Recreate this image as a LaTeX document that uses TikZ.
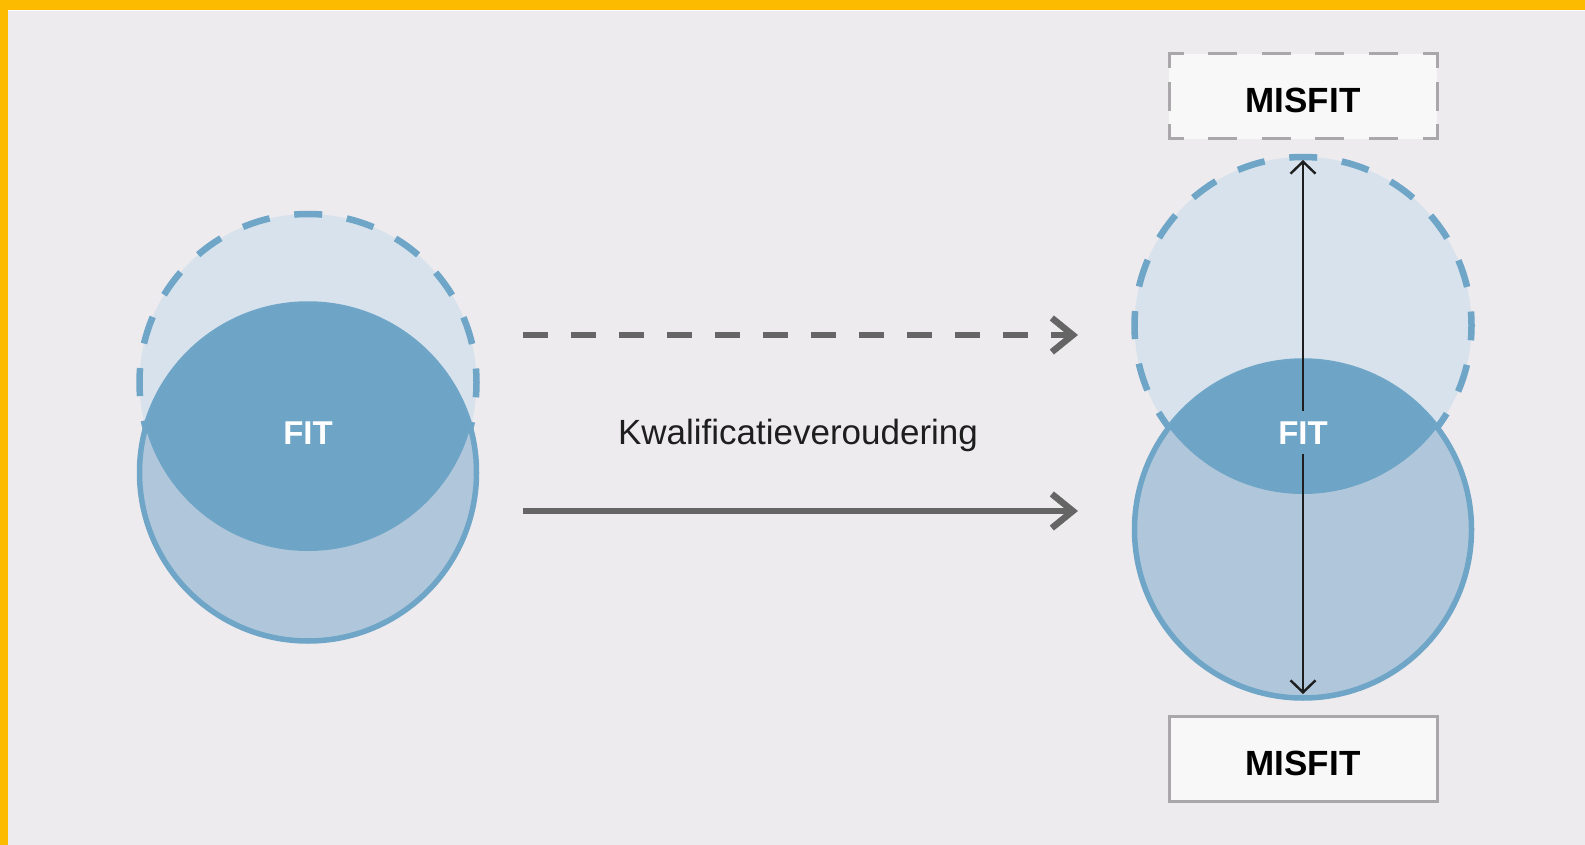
\documentclass[tikz,border=0pt]{standalone}
\usepackage{fontspec}
\setmainfont{Liberation Sans}
\usetikzlibrary{arrows.meta}
\definecolor{bgc}{HTML}{EDEBEE}
\definecolor{yel}{HTML}{FDBB00}
\definecolor{lightc}{HTML}{D7E2EC}
\definecolor{midc}{HTML}{B0C7DB}
\definecolor{lensc}{HTML}{6EA4C5}
\definecolor{strokec}{HTML}{6FA5C7}
\definecolor{arrowc}{HTML}{656566}
\definecolor{boxfill}{HTML}{F8F8F8}
\definecolor{boxc}{HTML}{A9A7AA}
\definecolor{txtc}{HTML}{1E1E1E}
\begin{document}
\begin{tikzpicture}[x=1pt,y=-1pt,
  dashcirc/.style={fill=lightc, draw=strokec, line width=6.5pt, dash pattern=on 28pt off 24.9pt, dash phase=14pt},
  solidcirc/.style={fill=midc, draw=strokec, line width=5.5pt},
  grayarrow/.style={draw=arrowc, line width=6.5pt, -{Straight Barb[length=21pt,width=34pt]}},
  blackarrow/.style={draw=txtc, line width=2.4pt, {Straight Barb[length=12pt,width=25pt]}-{Straight Barb[length=12pt,width=25pt]}},
  fitlabel/.style={fill=lensc, text=white, inner xsep=3pt, inner ysep=0pt, minimum height=43pt, text height=24pt, text depth=0pt, font=\bfseries\fontsize{33}{38}\selectfont},
  misbox/.style={rectangle, fill=boxfill, minimum width=268pt, minimum height=85pt, inner sep=0pt, outer sep=0pt, text=black, text height=33pt, text depth=0pt, font=\bfseries\fontsize{35}{40}\selectfont},
  boxline/.style={draw=boxc, line width=3pt, line cap=rect},
  kwlabel/.style={text=txtc, anchor=base, inner sep=0pt, font=\fontsize{35}{40}\selectfont}
]
\useasboundingbox (0,0) rectangle (1585,845);
\fill[bgc] (0,0) rectangle (1585,845);
\fill[yel] (0,0) rectangle (1585,10);
\fill[yel] (0,0) rectangle (8,845);
\fill[white] (8,10) rectangle (1585,11.5);

% left pair of circles
\path[dashcirc] (308,382.5) circle[radius=168.5pt];
\path[solidcirc] (308,472.5) circle[radius=168.5pt];
\begin{scope}
  \clip (308,382.5) circle[radius=168.5pt];
  \fill[lensc] (308,472.5) circle[radius=168.5pt];
\end{scope}
\node[fitlabel] (fitl) at (308,432.5) {FIT};

% right pair of circles
\path[dashcirc] (1303,325.5) circle[radius=168.5pt];
\path[solidcirc] (1303,529.5) circle[radius=168.5pt];
\begin{scope}
  \clip (1303,325.5) circle[radius=168.5pt];
  \fill[lensc] (1303,529.5) circle[radius=168.5pt];
\end{scope}

% vertical double arrow
\coordinate (vt) at (1303,160);
\coordinate (vb) at (1303,694);
\draw[blackarrow] (vt) -- (vb);
\node[fitlabel] (fitr) at (1303,432.5) {FIT};

% horizontal arrows
\coordinate (ds) at (523,335);
\coordinate (de) at (1078,335);
\coordinate (ss) at (523,511);
\coordinate (se) at (1078,511);
\draw[grayarrow, dash pattern=on 25pt off 23pt] (ds) -- (de);
\draw[grayarrow] (ss) -- (se);
\node[kwlabel] (kw) at (798,444) {Kwalificatieveroudering};

% MISFIT boxes
\node[misbox] (mt) at (1303,96.5) {MISFIT};
\draw[boxline, dash pattern=on 26pt off 27.6pt, dash phase=13pt] (mt.north west) -- (mt.north east);
\draw[boxline, dash pattern=on 26pt off 27.6pt, dash phase=13pt] (mt.south west) -- (mt.south east);
\draw[boxline, dash pattern=on 26pt off 16.5pt, dash phase=13pt] (mt.north west) -- (mt.south west);
\draw[boxline, dash pattern=on 26pt off 16.5pt, dash phase=13pt] (mt.north east) -- (mt.south east);

\node[misbox, draw=boxc, line width=3pt] (mb) at (1303,758.5) {MISFIT};
\end{tikzpicture}
\end{document}
